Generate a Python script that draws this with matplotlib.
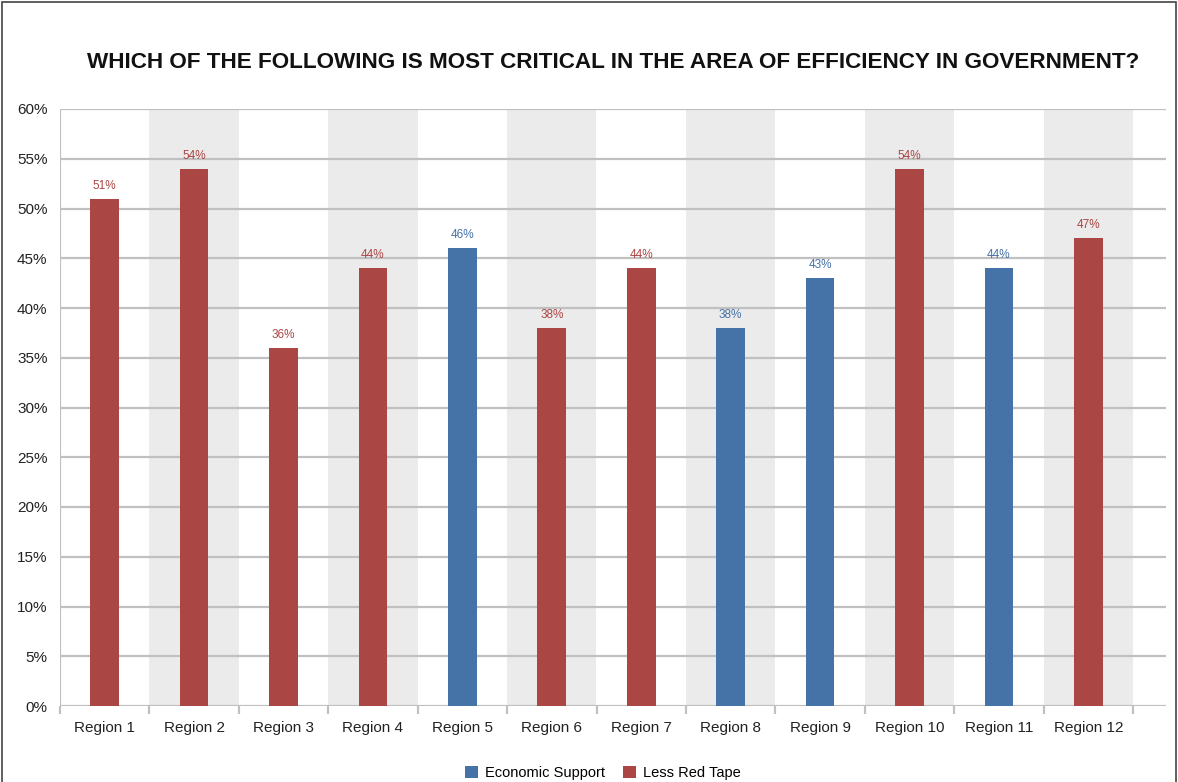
import matplotlib
matplotlib.use("Agg")
import matplotlib.pyplot as plt
from matplotlib.patches import Rectangle, Patch
import numpy as np

plt.rcParams['font.family'] = ['Liberation Sans', 'DejaVu Sans']

regions = ["Region 1", "Region 2", "Region 3", "Region 4", "Region 5", "Region 6",
           "Region 7", "Region 8", "Region 9", "Region 10", "Region 11", "Region 12"]
economic_support = [None, None, None, None, 46, None, None, 38, 43, None, 44, None]
less_red_tape = [51, 54, 36, 44, None, 38, 44, None, None, 54, None, 47]
series_names = ["Economic Support", "Less Red Tape"]
series_colors = ["#4572A7", "#AA4643"]
yticks = [0, 5, 10, 15, 20, 25, 30, 35, 40, 45, 50, 55, 60]
title = "WHICH OF THE FOLLOWING IS MOST CRITICAL IN THE AREA OF EFFICIENCY IN GOVERNMENT?"

W, H = 1178, 782
fig = plt.figure(figsize=(W / 100, H / 100), dpi=100)
fig.patch.set_facecolor("white")

# outer border
fig.add_artist(Rectangle((2 / W, -0.01), (W - 4) / W, 1.0 - 2 / H + 0.01, transform=fig.transFigure,
                         fill=False, edgecolor="#444444", linewidth=1.2))

left_px, right_px, top_px, bottom_px = 60, 1166, 109, 706
ax = fig.add_axes([left_px / W, 1 - bottom_px / H, (right_px - left_px) / W, (bottom_px - top_px) / H])

n = len(regions)
cat_px = (1133 - 60) / n
xmax = n - 0.5 + (right_px - 1133) / cat_px
ax.set_xlim(-0.5, xmax)
ax.set_ylim(0, 60)

# alternating bands
for i in range(n):
    if i % 2 == 1:
        ax.axvspan(i - 0.5, i + 0.5, color="#EBEBEB", zorder=0, linewidth=0)

# grid
for t in yticks:
    ax.axhline(t, color="#C0C0C0", linewidth=1.6, zorder=1)

bar_w = 0.32
for vals, color in zip([economic_support, less_red_tape], series_colors):
    xs = [i for i, v in enumerate(vals) if v is not None]
    hs = [v for v in vals if v is not None]
    ax.bar(xs, hs, width=bar_w, color=color, zorder=3, linewidth=0)
    for x, h in zip(xs, hs):
        ax.annotate(f"{h}%", (x, h), xytext=(0, 5), textcoords="offset points",
                    ha="center", va="bottom", fontsize=8.5, color=color, zorder=4)

for s in ax.spines.values():
    s.set_visible(False)
ax.axvline(-0.5, color="#C0C0C0", linewidth=1.6, zorder=2)

ax.set_yticks(yticks)
ax.set_yticklabels([f"{t}%" for t in yticks], fontsize=11, color="#222222")
ax.tick_params(axis="y", length=0, pad=9)

ax.set_xticks(range(n))
ax.set_xticklabels(regions, fontsize=11, color="#222222")
ax.tick_params(axis="x", length=0, pad=11)
ax.set_xticks(np.arange(n + 1) - 0.5, minor=True)
ax.tick_params(axis="x", which="minor", length=6, width=1.6, color="#C0C0C0")

fig.text(613 / W, 1 - 62 / H, title, ha="center", va="center", fontsize=16.2,
         fontweight="bold", color="#111111")

handles = [Patch(facecolor=c, edgecolor="none") for c in series_colors]
fig.legend(handles, series_names, loc="center", bbox_to_anchor=(603 / W, 1 - 773 / H),
           ncol=2, frameon=False, fontsize=10.5, handlelength=0.9, handleheight=0.9,
           handletextpad=0.5, columnspacing=1.2)

fig.savefig("out.png", dpi=100, facecolor="white")
